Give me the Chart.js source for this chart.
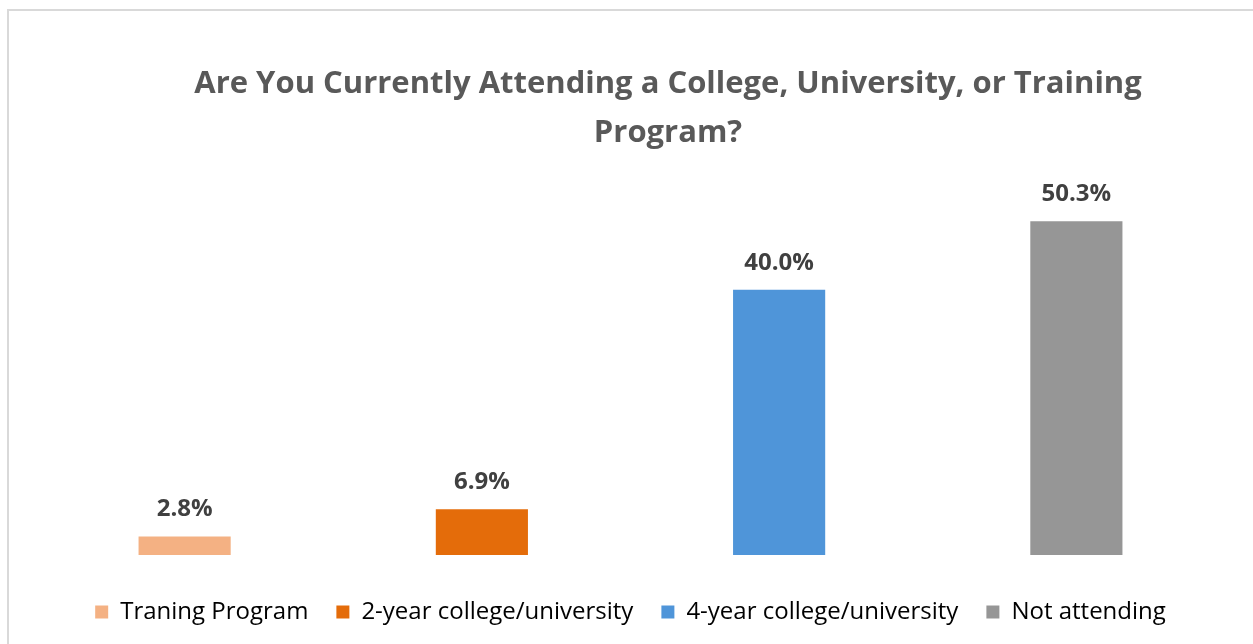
<!DOCTYPE html>
<html lang="en">
<head>
    <meta charset="UTF-8">
    <title>Attending College</title>
    <script src="https://cdn.jsdelivr.net/npm/chart.js"></script>
    <style>
        body { margin: 0; background: #fff; }
        #frame { position: absolute; left: 7px; top: 9px; width: 1300px; height: 700px; border: 2px solid #d9d9d9; }
        #box { position: absolute; left: 0; top: 0; width: 1253px; height: 644px; }
    </style>
</head>
<body>
    <div id="frame"></div>
    <div id="box">
        <canvas id="myChart"></canvas>
    </div>
<script>
    // data
    var v_title = ["Are You Currently Attending a College, University, or Training", "Program?"];
    var v_labels = ["Traning Program", "2-year college/university", "4-year college/university", "Not attending"];
    var v_values = [2.8, 6.9, 40.0, 50.3];
    var v_colors = ["#f4b183", "#e46c0a", "#4f95d9", "#969696"];

    // title sits a bit right of the plot centre in the original, so draw it by hand
    var titlePlugin = {
        id: "bigTitle",
        afterDraw: function(chart){
            var ctx = chart.ctx;
            ctx.save();
            ctx.font = "bold 31px 'Open Sans'";
            ctx.fillStyle = "#595959";
            ctx.textAlign = "center";
            ctx.textBaseline = "alphabetic";
            ctx.fillText(v_title[0], 668, 93);
            ctx.fillText(v_title[1], 668, 142);
            ctx.restore();
        }
    };

    // value labels on top of the bars
    var valuePlugin = {
        id: "valueLabels",
        afterDatasetsDraw: function(chart){
            var ctx = chart.ctx;
            var meta = chart.getDatasetMeta(0);
            ctx.save();
            ctx.font = "bold 24px 'Open Sans'";
            ctx.fillStyle = "#404040";
            ctx.textAlign = "center";
            ctx.textBaseline = "alphabetic";
            meta.data.forEach(function(bar, i){
                ctx.fillText(v_values[i].toFixed(1) + "%", bar.x, bar.y - 20);
            });
            ctx.restore();
        }
    };

    const ctx = document.getElementById('myChart').getContext('2d');
    const myChart = new Chart(ctx, {
        type: 'bar',
        data: {
            labels: v_labels,
            datasets: [{
                data: v_values,
                backgroundColor: v_colors,
                barPercentage: 0.31,
                categoryPercentage: 1
            }]
        },
        options: {
            responsive: true,
            maintainAspectRatio: false,
            animation: false,
            layout: { padding: { left: 36, right: 28, top: 157, bottom: 10 } },
            scales: {
                x: {
                    display: true,
                    grid: { display: false },
                    border: { display: false },
                    ticks: { display: false },
                    afterFit: function(s){ s.height = 17; }
                },
                y: { display: false, min: 0, max: 60 }
            },
            plugins: {
                title: { display: false },
                legend: {
                    position: "bottom",
                    labels: {
                        color: "#595959",
                        font: { family: "Open Sans", size: 24 },
                        boxWidth: 13,
                        boxHeight: 13,
                        padding: 28,
                        generateLabels: function(chart){
                            return v_labels.map(function(l, i){
                                return { text: l, fillStyle: v_colors[i], strokeStyle: v_colors[i], lineWidth: 0, index: i };
                            });
                        }
                    }
                },
                tooltip: { enabled: false }
            }
        },
        plugins: [valuePlugin, titlePlugin]
    });
</script>
</body>
</html>
